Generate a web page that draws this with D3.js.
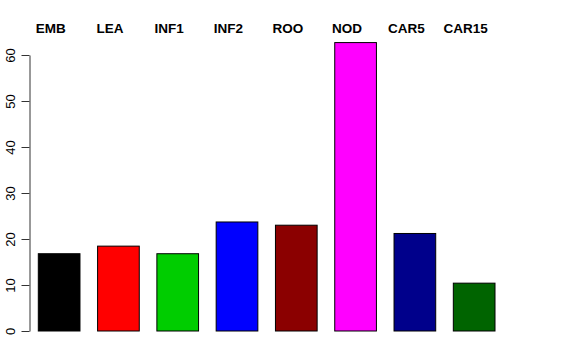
<!DOCTYPE html>
<html lang="en">
  <head>
    <meta charset="UTF-8" />
    <script src="https://d3js.org/d3.v7.min.js"></script>
    <title>Bar chart</title>
    <style>
      body {
        margin: 0;
        background: white;
      }
      text {
        font-family: "Liberation Sans", Arial, sans-serif;
      }
    </style>
  </head>
  <body>
    <script>
      // data
      const categories = ["EMB", "LEA", "INF1", "INF2", "ROO", "NOD", "CAR5", "CAR15"];
      const values = [16.8, 18.45, 16.8, 23.7, 23.0, 62.7, 21.2, 10.4];
      const barColors = ["#000000", "#ff0000", "#00cd00", "#0000ff", "#8b0000", "#ff00ff", "#00008b", "#006400"];
      const yTicks = [0, 10, 20, 30, 40, 50, 60];

      const width = 576,
        height = 360;

      const svg = d3
        .select("body")
        .append("svg")
        .attr("width", width)
        .attr("height", height);

      // scales
      const x = d3
        .scaleBand()
        .domain(categories)
        .range([38.3, 495])
        .paddingInner(0.297)
        .paddingOuter(0);

      const y = d3.scaleLinear().domain([0, 60]).range([331, 55]);

      // bars
      svg
        .selectAll("rect.bar")
        .data(categories)
        .enter()
        .append("rect")
        .attr("class", "bar")
        .attr("x", (d) => x(d))
        .attr("y", (d, i) => y(values[i]))
        .attr("width", x.bandwidth())
        .attr("height", (d, i) => y(0) - y(values[i]))
        .attr("fill", (d, i) => barColors[i])
        .attr("stroke", "#000")
        .attr("stroke-width", 1);

      // y axis, R style: line only spans the tick range
      const yAxis = d3
        .axisLeft(y)
        .tickValues(yTicks)
        .tickSize(8)
        .tickSizeOuter(0);

      const gy = svg.append("g").attr("transform", "translate(29.5,0)").call(yAxis);
      gy.select(".domain").attr("stroke", "#333");
      gy.selectAll(".tick line").attr("stroke", "#333");
      gy.selectAll(".tick text")
        .attr("font-size", 13)
        .attr("fill", "#000")
        .attr("transform", "rotate(-90)")
        .attr("x", 0)
        .attr("y", -14.5)
        .attr("dy", 0)
        .attr("text-anchor", "middle")
        .attr("font-family", "Liberation Sans, Arial, sans-serif");

      // category labels on top
      svg
        .selectAll("text.cat")
        .data(categories)
        .enter()
        .append("text")
        .attr("class", "cat")
        .attr("x", (d) => x(d) + x.bandwidth() / 2 - 8.5)
        .attr("y", 33.3)
        .attr("text-anchor", "middle")
        .attr("font-size", 13.5)
        .attr("font-weight", "bold")
        .text((d) => d);
    </script>
  </body>
</html>
